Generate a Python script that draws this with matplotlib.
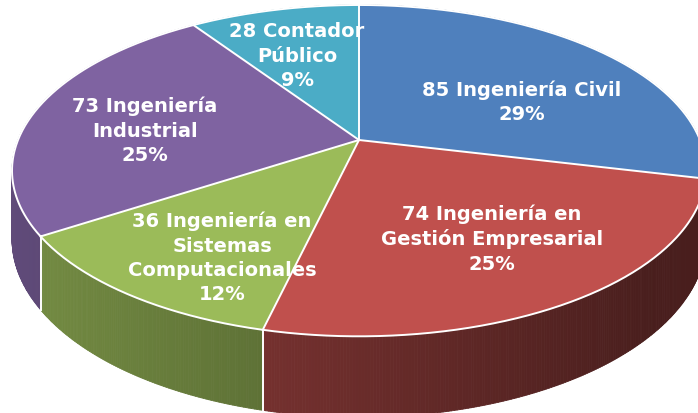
import numpy as np
import matplotlib.pyplot as plt
from matplotlib.patches import Polygon
from matplotlib.collections import PolyCollection
from matplotlib.colors import to_rgb

# data
counts = [85, 74, 36, 73, 28]
names = ['Ingeniería Civil', 'Ingeniería en\nGestión Empresarial',
         'Ingeniería en\nSistemas\nComputacionales', 'Ingeniería\nIndustrial',
         'Contador\nPúblico']
colors = ['#4f80bd', '#c0504d', '#9bbb59', '#7f63a1', '#4bacc6']

# label centres (pixels)
label_pos = [(522, 102), (492, 239), (222, 258), (145, 131), (297, 56)]

# fake 3d projection (pixels)
cx, cy = 359, 140
sx, sy, k, thick = 341, 160, 0.185, 66


def proj(theta, z=0.0):
    X, Y = np.sin(theta), np.cos(theta)
    den = 1 + k * Y
    return cx + sx * X / den, cy - sy * Y / den + z * thick / den


def side_shade(rgb, x):
    f = 0.75 - 0.35 * (x - 20) / 600
    f = min(max(f, 0.38), 0.8)
    return tuple(c * f for c in rgb)


fig = plt.figure(figsize=(6.98, 4.13), dpi=100)
ax = fig.add_axes([0, 0, 1, 1])
ax.set_xlim(0, 698)
ax.set_ylim(413, 0)
ax.axis('off')

total = sum(counts)
edges = np.concatenate([[0], np.cumsum(counts)]) / total * 2 * np.pi

# sides, far to near
quads = []
for i in range(len(counts)):
    th = np.linspace(edges[i], edges[i + 1], int(counts[i] * 3) + 2)
    for a, b in zip(th[:-1], th[1:]):
        quads.append((np.cos((a + b) / 2), a, b, i))
quads.sort(key=lambda q: -q[0])
verts, cols = [], []
for _, a, b, i in quads:
    p1, p2 = proj(a), proj(b)
    p3, p4 = proj(b, 1), proj(a, 1)
    verts.append([p1, p2, p3, p4])
    cols.append(side_shade(to_rgb(colors[i]), (p1[0] + p2[0]) / 2))
ax.add_collection(PolyCollection(verts, facecolors=cols, edgecolors=cols,
                                 linewidths=0.6, zorder=1))

# tops
for i in range(len(counts)):
    th = np.linspace(edges[i], edges[i + 1], 200)
    xs, ys = proj(th)
    pts = [(cx, cy)] + list(zip(xs, ys))
    ax.add_patch(Polygon(pts, closed=True, facecolor=colors[i],
                         edgecolor='none', zorder=2))

# white rims
th = np.linspace(0, 2 * np.pi, 600)
xs, ys = proj(th)
ax.plot(xs, ys, color='white', lw=1.4, zorder=5)
for e in edges[:-1]:
    x0, y0 = proj(e)
    ax.plot([cx, x0], [cy, y0], color='white', lw=1.4, zorder=5)
    if np.cos(e) < 0:
        x1, y1 = proj(e, 1)
        ax.plot([x0, x1], [y0, y1], color='white', lw=1.4, zorder=5)

for i in range(len(counts)):
    pct = round(counts[i] / total * 100)
    txt = f'{counts[i]} {names[i]}\n{pct}%'
    ax.text(label_pos[i][0], label_pos[i][1], txt, ha='center', va='center',
            color='white', fontsize=14, fontweight='bold',
            family='DejaVu Sans', linespacing=1.36, zorder=6)

fig.savefig('out.png', dpi=100)
